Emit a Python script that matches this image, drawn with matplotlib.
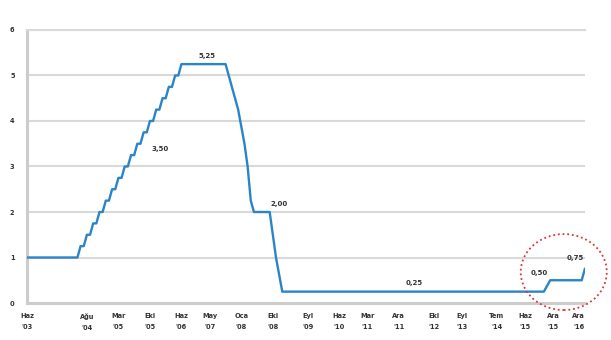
import matplotlib.pyplot as plt
from matplotlib.patches import Ellipse

# policy rate, one point per observation on a category axis
obs = [0, 16, 17, 18, 19, 20, 21, 22, 23, 24, 25, 26, 27, 28, 29, 30, 31, 32,
       33, 34, 35, 36, 37, 38, 39, 40, 41, 42, 43, 44, 45, 46, 47, 48, 49, 50,
       63, 65, 66, 67, 69, 70, 71, 72, 77, 78, 79, 81, 164, 166, 176, 177]
rate = [1.00, 1.00, 1.25, 1.25, 1.50, 1.50, 1.75, 1.75, 2.00, 2.00, 2.25, 2.25,
        2.50, 2.50, 2.75, 2.75, 3.00, 3.00, 3.25, 3.25, 3.50, 3.50, 3.75, 3.75,
        4.00, 4.00, 4.25, 4.25, 4.50, 4.50, 4.75, 4.75, 5.00, 5.00, 5.25, 5.25,
        5.25, 4.75, 4.50, 4.25, 3.50, 3.00, 2.25, 2.00, 2.00, 1.50, 1.00, 0.25,
        0.25, 0.50, 0.50, 0.75]

tick_obs = [0, 19, 29, 39, 49, 58, 68, 78, 89, 99, 108, 118, 129, 138, 149, 158, 167, 175]
tick_labels = ["Haz\n'03", "Ağu\n'04", "Mar\n'05", "Eki\n'05", "Haz\n'06", "May\n'07",
               "Oca\n'08", "Eki\n'08", "Eyl\n'09", "Haz\n'10", "Mar\n'11", "Ara\n'11",
               "Eki\n'12", "Eyl\n'13", "Tem\n'14", "Haz\n'15", "Ara\n'15", "Ara\n'16"]

# labelled points: observation, value, text offset (pt)
label_obs = [57, 36, 77, 123, 166, 177]
label_val = [5.25, 3.50, 2.00, 0.25, 0.50, 0.75]
label_off = [(0, 6), (14, -3.5), (6.5, 6), (0, 6), (-8, 5), (-7, 8)]

fig = plt.figure(figsize=(6.11, 3.40), dpi=100)
ax = fig.add_axes([0.0442, 0.1088, 0.913, 0.803])

ax.plot(obs, rate, color='#2b84c8', linewidth=1.7, zorder=3)

for xo, v, (dx, dy) in zip(label_obs, label_val, label_off):
    ax.annotate(f"{v:.2f}".replace('.', ','), (xo, v), xytext=(dx, dy),
                textcoords='offset points', ha='center', va='center',
                fontsize=5, color='#333333', fontweight='bold')

# highlight the latest hikes
circ = Ellipse((170.3, 0.68), 27.3, 1.67, fill=False, edgecolor='#e0303a',
               linestyle=(0, (1, 1.6)), linewidth=1.3, clip_on=False, zorder=4)
ax.add_patch(circ)

ax.set_xlim(0, 177)
ax.set_ylim(0, 6)
ax.set_yticks(range(7))
ax.set_xticks(tick_obs)
ax.set_xticklabels(tick_labels, linespacing=2.0)
ax.tick_params(axis='both', length=0, labelsize=4.8, labelcolor='#333333')
ax.tick_params(axis='y', pad=9)
ax.tick_params(axis='x', pad=7)
for lab in ax.get_xticklabels() + ax.get_yticklabels():
    lab.set_fontweight('bold')

ax.grid(axis='y', color='#d9d9d9', linewidth=1.5)
ax.set_axisbelow(True)
ax.spines['right'].set_visible(False)
ax.spines['top'].set_color('#d9d9d9')
ax.spines['top'].set_linewidth(1.5)
ax.spines['left'].set_color('#cccccc')
ax.spines['left'].set_linewidth(2.2)
ax.spines['bottom'].set_color('#cccccc')
ax.spines['bottom'].set_linewidth(2.2)

plt.savefig('out.png', dpi=100)
